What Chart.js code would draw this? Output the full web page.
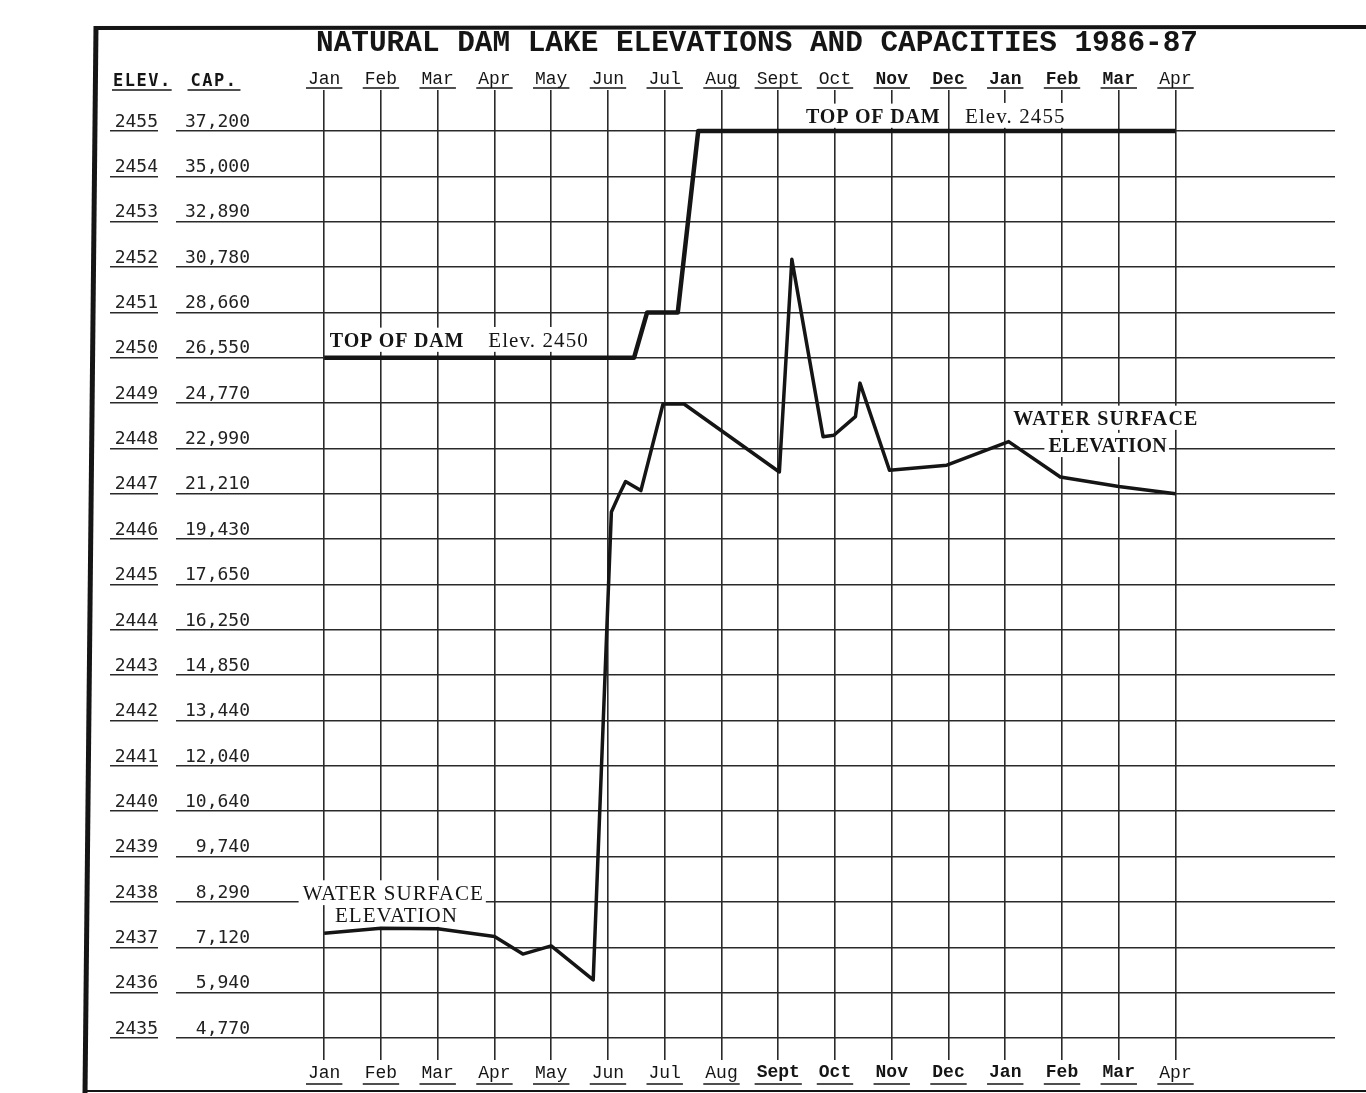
<!DOCTYPE html>
<html>
<head>
<meta charset="utf-8">
<script src="https://cdn.jsdelivr.net/npm/chart.js@4.4.1/dist/chart.umd.min.js"></script>
<style>
html,body{margin:0;padding:0;background:#fff;overflow:hidden}
#wrap{position:relative;width:1366px;height:1093px}
</style>
</head>
<body>
<div id="wrap"><canvas id="c"></canvas></div>
<script>
// ---- data ----
const months = ['Jan','Feb','Mar','Apr','May','Jun','Jul','Aug','Sept','Oct','Nov','Dec','Jan','Feb','Mar','Apr'];
const elevTicks = [2435,2436,2437,2438,2439,2440,2441,2442,2443,2444,2445,2446,2447,2448,2449,2450,2451,2452,2453,2454,2455];
const capLabels = ['4,770','5,940','7,120','8,290','9,740','10,640','12,040','13,440','14,850','16,250','17,650','19,430','21,210','22,990','24,770','26,550','28,660','30,780','32,890','35,000','37,200'];
const damMonth = [0, 5.46, 5.69, 6.23, 6.59, 15];
const damElev  = [2450, 2450, 2451, 2451, 2455, 2455];
const waterMonth = [0, 1, 2, 3, 3.5, 4, 4.74, 5.06, 5.19, 5.31, 5.58, 5.97, 6.34, 8.02, 8.24, 8.79, 8.98, 9.36, 9.44, 9.96, 10.97, 12.06, 12.97, 14, 15];
const waterElev  = [2437.31, 2437.42, 2437.41, 2437.24, 2436.85, 2437.03, 2436.28, 2446.6, 2446.96, 2447.27, 2447.07, 2448.98, 2448.98, 2447.48, 2452.17, 2448.26, 2448.29, 2448.7, 2449.44, 2447.52, 2447.63, 2448.15, 2447.37, 2447.16, 2447.0];
const titleText = 'NATURAL DAM LAKE ELEVATIONS AND CAPACITIES 1986-87';

// ---- annotation layout (not data) ----
const annotations = [
  {text:'TOP OF DAM', x:0.10, y:2450.24, bold:true, size:20, ls:0.8},
  {text:'Elev. 2450', x:2.89, y:2450.24, bold:false, size:21, ls:1.1},
  {text:'TOP OF DAM', x:8.49, y:2455.18, bold:true, size:20, ls:0.8},
  {text:'Elev. 2455', x:11.29, y:2455.18, bold:false, size:21, ls:1.1},
  {text:'WATER SURFACE', x:-0.38, y:2438.04, bold:false, size:21, ls:1},
  {text:'ELEVATION', x:0.19, y:2437.56, bold:false, size:21, ls:1},
  {text:'WATER SURFACE', x:12.14, y:2448.52, bold:true, size:20, ls:1.2},
  {text:'ELEVATION', x:12.76, y:2447.92, bold:true, size:20, ls:0.3}
];

const INK = '#151515';
const GRID = '#2a2a2a';
const monthFont = (i, bold) => ({family:'Liberation Mono', size:18, weight: bold ? 'bold' : 'normal'});
const isBoldTop = i => i >= 10 && i <= 14;
const isBoldBottom = i => i >= 8 && i <= 14;

const decor = {
  id: 'decor',
  afterLayout(chart) {
    const t = chart.titleBlock;
    if (t) { t.left = 148; t.right = 1366; }
  },
  beforeDatasetsDraw(chart) {
    const ctx = chart.ctx, xs = chart.scales.x, ys = chart.scales.y;
    annotations.forEach(n => {
      ctx.save();
      ctx.font = (n.bold ? 'bold ' : '') + n.size + 'px "Liberation Serif"';
      try { ctx.letterSpacing = n.ls + 'px'; } catch(e) {}
      const px = xs.getPixelForValue(n.x), py = ys.getPixelForValue(n.y);
      const w = ctx.measureText(n.text).width;
      const capH = n.size * 0.66;
      ctx.fillStyle = '#fff';
      ctx.fillRect(px - 4, py - capH - 6, w + 6, capH + 11);
      ctx.fillStyle = INK;
      ctx.textBaseline = 'alphabetic';
      ctx.textAlign = 'left';
      ctx.fillText(n.text, px, py);
      ctx.restore();
    });
  },
  afterDraw(chart) {
    const ctx = chart.ctx;
    const xb = chart.scales.x, xt = chart.scales.x2;
    const yc = chart.scales.y, ye = chart.scales.yElev;
    ctx.save();
    ctx.strokeStyle = INK;
    ctx.lineWidth = 1.5;
    // month label underlines
    months.forEach((m, i) => {
      const px = xb.getPixelForValue(i);
      ctx.font = (isBoldTop(i) ? 'bold ' : '') + '18px "Liberation Mono"';
      let w = ctx.measureText(m).width;
      ctx.beginPath();
      ctx.moveTo(px - w/2 - 2, xt.bottom - 2);
      ctx.lineTo(px + w/2 + 2, xt.bottom - 2);
      ctx.stroke();
      ctx.font = (isBoldBottom(i) ? 'bold ' : '') + '18px "Liberation Mono"';
      w = ctx.measureText(m).width;
      ctx.beginPath();
      ctx.moveTo(px - w/2 - 2, xb.top + 24);
      ctx.lineTo(px + w/2 + 2, xb.top + 24);
      ctx.stroke();
    });
    // column headers
    ctx.font = 'bold 17px "DejaVu Sans Mono"';
    try { ctx.letterSpacing = '1.5px'; } catch(e) {}
    ctx.fillStyle = INK;
    ctx.textBaseline = 'alphabetic';
    const hy = xt.bottom - 4;
    ctx.textAlign = 'left';
    const ex = ye.left + 3;
    const ew = ctx.measureText('ELEV.').width;
    ctx.fillText('ELEV.', ex, hy);
    ctx.beginPath(); ctx.moveTo(ex - 1, hy + 4); ctx.lineTo(ex + ew, hy + 4); ctx.stroke();
    const cw = ctx.measureText('CAP.').width;
    const cx = yc.right - 38 - cw / 2;
    ctx.fillText('CAP.', cx, hy);
    ctx.beginPath(); ctx.moveTo(cx - 3, hy + 4); ctx.lineTo(cx + cw + 3, hy + 4); ctx.stroke();
    try { ctx.letterSpacing = '0px'; } catch(e) {}
    // page frame
    ctx.lineWidth = 5;
    ctx.beginPath(); ctx.moveTo(96, 26); ctx.lineTo(85, 1093); ctx.stroke();
    ctx.lineWidth = 4;
    ctx.beginPath(); ctx.moveTo(94, 28); ctx.lineTo(1366, 27); ctx.stroke();
    ctx.lineWidth = 2;
    ctx.beginPath(); ctx.moveTo(85, 1091); ctx.lineTo(1366, 1091); ctx.stroke();
    ctx.restore();
  }
};

const xMin = -1.272, xMax = 17.81, yMin = 2434.515, yMax = 2455.904;
const monthTicks = s => { s.ticks = months.map((_, i) => ({value: i})); };
const elevTickBuild = s => { s.ticks = elevTicks.map(v => ({value: v})); };

new Chart(document.getElementById('c'), {
  type: 'line',
  data: {
    datasets: [
      {
        label: 'Top of dam',
        data: damMonth.map((m, i) => ({x: m, y: damElev[i]})),
        borderColor: INK, borderWidth: 4.5, pointRadius: 0, tension: 0,
        borderJoinStyle: 'round', xAxisID: 'x', yAxisID: 'y'
      },
      {
        label: 'Water surface elevation',
        data: waterMonth.map((m, i) => ({x: m, y: waterElev[i]})),
        borderColor: INK, borderWidth: 3.5, pointRadius: 0, tension: 0,
        borderJoinStyle: 'round', xAxisID: 'x', yAxisID: 'y'
      }
    ]
  },
  options: {
    responsive: true, maintainAspectRatio: false, animation: false,
    layout: {padding: {top: 26, left: 110, right: 31, bottom: 0}},
    plugins: {
      legend: {display: false},
      tooltip: {enabled: false},
      title: {
        display: true, text: titleText, padding: 0, color: INK,
        font: {family: 'Liberation Mono', size: 29.4, weight: 'bold', lineHeight: 1.2}
      }
    },
    scales: {
      x: {
        type: 'linear', position: 'bottom', min: xMin, max: xMax,
        afterBuildTicks: monthTicks,
        afterFit: s => { s.height = 33; },
        grid: {drawOnChartArea: true, drawTicks: false, color: GRID, lineWidth: 1.6},
        border: {display: false},
        ticks: {
          autoSkip: false, maxRotation: 0, minRotation: 0, padding: 2, color: INK,
          callback: v => months[v],
          font: c => monthFont(c.index, isBoldBottom(c.index))
        }
      },
      x2: {
        type: 'linear', position: 'top', min: xMin, max: xMax,
        afterBuildTicks: monthTicks,
        afterFit: s => { s.height = 28.7; },
        grid: {display: false},
        border: {display: false},
        ticks: {
          autoSkip: false, maxRotation: 0, minRotation: 0, padding: -8, color: INK,
          callback: v => months[v],
          font: c => monthFont(c.index, isBoldTop(c.index))
        }
      },
      y: {
        type: 'linear', position: 'left', weight: 0, min: yMin, max: yMax,
        afterBuildTicks: elevTickBuild,
        afterFit: s => { s.width = 94; },
        grid: {drawOnChartArea: true, drawTicks: true, tickLength: 76, color: GRID, lineWidth: 1.6},
        border: {display: false},
        ticks: {
          padding: -74, labelOffset: -9, color: '#222',
          font: {family: 'DejaVu Sans Mono', size: 18},
          callback: v => capLabels[elevTicks.indexOf(v)]
        }
      },
      yElev: {
        type: 'linear', position: 'left', weight: 1, min: yMin, max: yMax,
        afterBuildTicks: elevTickBuild,
        afterFit: s => { s.width = 48; },
        grid: {drawOnChartArea: false, drawTicks: true, tickLength: 48, color: GRID, lineWidth: 1.6},
        border: {display: false},
        ticks: {
          padding: -48, labelOffset: -9, color: '#222',
          font: {family: 'DejaVu Sans Mono', size: 18},
          callback: v => String(v)
        }
      }
    }
  },
  plugins: [decor]
});
</script>
</body>
</html>
